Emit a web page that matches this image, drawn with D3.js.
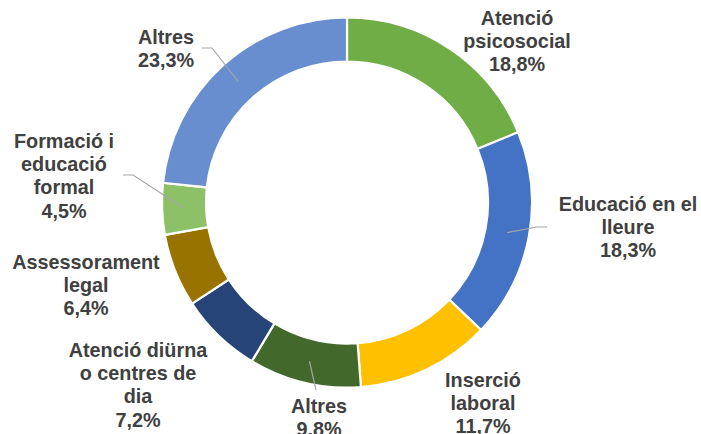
<!DOCTYPE html>
<html><head><meta charset="utf-8">
<script src="https://cdn.jsdelivr.net/npm/d3@7"></script>
<style>html,body{margin:0;padding:0;background:#fff;}</style>
</head><body>
<svg id="c" width="701" height="434"></svg>
<script>
const categories = [
  ["Atenció","psicosocial"],
  ["Educació en el","lleure"],
  ["Inserció","laboral"],
  ["Altres"],
  ["Atenció diürna","o centres de","dia"],
  ["Assessorament","legal"],
  ["Formació i","educació","formal"],
  ["Altres"]
];
const values = [18.8, 18.3, 11.7, 9.8, 7.2, 6.4, 4.5, 23.3];
const valueLabels = ["18,8%","18,3%","11,7%","9,8%","7,2%","6,4%","4,5%","23,3%"];
const colors = ["#70AD47","#4472C4","#FFC000","#43682B","#264478","#997300","#8CC168","#698ED0"];

// label layout (centre x, first baseline y, leader elbow points)
const labelLayout = [
  {x:517, y:25},
  {x:628, y:211, leader:[[547,227],[537,227]]},
  {x:483, y:387},
  {x:319, y:413, leader:[[316,390]]},
  {x:138, y:357},
  {x:86,  y:269},
  {x:64,  y:148, leader:[[123,175],[133,175]]},
  {x:166, y:44,  leader:[[202,48],[212,48]]}
];

const svg = d3.select("#c");
const cx = 347, cy = 202.5, rOuter = 185, rInner = 141;
const g = svg.append("g").attr("transform", `translate(${cx},${cy})`);

const pie = d3.pie().sort(null).value(d => d)(values);
const arc = d3.arc().innerRadius(rInner).outerRadius(rOuter);

g.selectAll("path.slice").data(pie).enter().append("path")
  .attr("class","slice")
  .attr("d", arc)
  .attr("fill", (d,i) => colors[i])
  .attr("stroke", "#fff")
  .attr("stroke-width", 2.2)
  .attr("stroke-linejoin","miter");

// leader lines
const line = d3.line();
pie.forEach((d,i) => {
  const L = labelLayout[i];
  if (!L.leader) return;
  const c = arc.centroid(d);
  const pts = L.leader.map(p => [p[0], p[1]]).concat([[c[0]+cx, c[1]+cy]]);
  svg.append("path").attr("d", line(pts))
    .attr("fill","none").attr("stroke","#A6A6A6").attr("stroke-width",1.2);
});

// labels
const lh = 23.2;
categories.forEach((cat,i) => {
  const L = labelLayout[i];
  const lines = cat.concat([valueLabels[i]]);
  const t = svg.append("text")
    .attr("text-anchor","middle")
    .attr("font-family","'Liberation Sans', Arial, sans-serif")
    .attr("font-weight","bold")
    .attr("font-size","19.8px")
    .attr("fill","#404040");
  lines.forEach((s,j) => {
    t.append("tspan").attr("x", L.x).attr("y", L.y + j*lh).text(s);
  });
});
</script>
</body></html>
